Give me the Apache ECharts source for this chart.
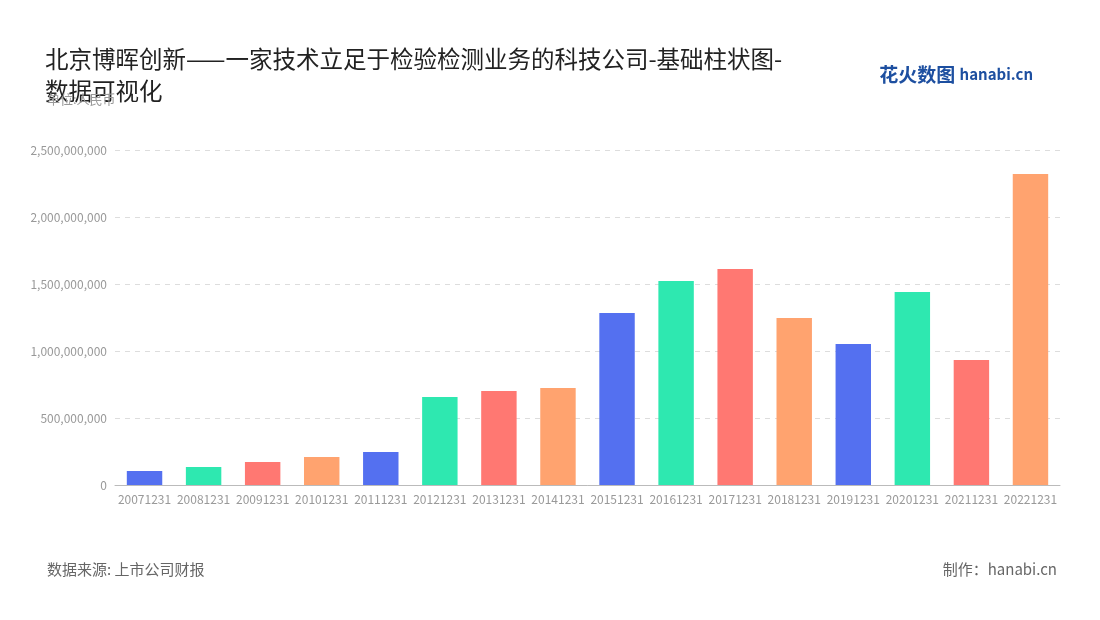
<!DOCTYPE html>
<html><head><meta charset="utf-8">
<script src="https://cdn.jsdelivr.net/npm/echarts@6/dist/echarts.min.js"></script>
<style>html,body{margin:0;padding:0;background:#fff}#c{width:1100px;height:620px}</style>
</head><body><div id="c"></div>
<script>
const categories=['20071231','20081231','20091231','20101231','20111231','20121231','20131231','20141231','20151231','20161231','20171231','20181231','20191231','20201231','20211231','20221231'];
const values=[104e6,134e6,172e6,209e6,246e6,657e6,701e6,724e6,1284e6,1522e6,1612e6,1246e6,1052e6,1440e6,933e6,2321e6];
const palette=['#5470f0','#2ee8b0','#ff7872','#ffa36f'];
const chart=echarts.init(document.getElementById('c'));
const font='"Noto Sans CJK SC","Noto Sans",sans-serif';
chart.setOption({
  textStyle:{fontFamily:font},
  title:[{text:'北京博晖创新——一家技术立足于检验检测业务的科技公司-基础柱状图-\n数据可视化',left:40,top:38,textStyle:{fontSize:23.5,fontWeight:'normal',color:'#222',lineHeight:32,fontFamily:font}},
    {text:'单位:人民币',left:42,top:88,textStyle:{fontSize:13,fontWeight:'normal',color:'#999',fontFamily:font}},
    {text:'数据来源: 上市公司财报',left:42,top:557,textStyle:{fontSize:15,fontWeight:'normal',color:'#666',fontFamily:font}},
    {text:'制作：hanabi.cn',right:38,top:557,textStyle:{fontSize:15,fontWeight:'normal',color:'#666',fontFamily:font}},
    {text:'花火数图 {a|hanabi.cn}',right:62,top:60,textStyle:{fontSize:19,fontWeight:'bold',color:'#1d4fa0',fontFamily:font,rich:{a:{fontSize:15,fontWeight:'bold',color:'#1d4fa0'}}}}],
  grid:{left:115,right:40,top:150,bottom:135},
  xAxis:{type:'category',data:categories,axisTick:{show:false},axisLine:{lineStyle:{color:'#bbb'}},axisLabel:{color:'#999',fontSize:12,interval:0}},
  yAxis:{type:'value',min:0,max:2500000000,interval:500000000,axisLabel:{color:'#999',fontSize:12,formatter:v=>v.toLocaleString('en-US')},splitLine:{lineStyle:{type:[5,5],color:'#ddd'}}},
  series:[{type:'bar',barWidth:'60%',data:values.map((v,i)=>({value:v,itemStyle:{color:palette[i%4]}}))}]
});
</script></body></html>
